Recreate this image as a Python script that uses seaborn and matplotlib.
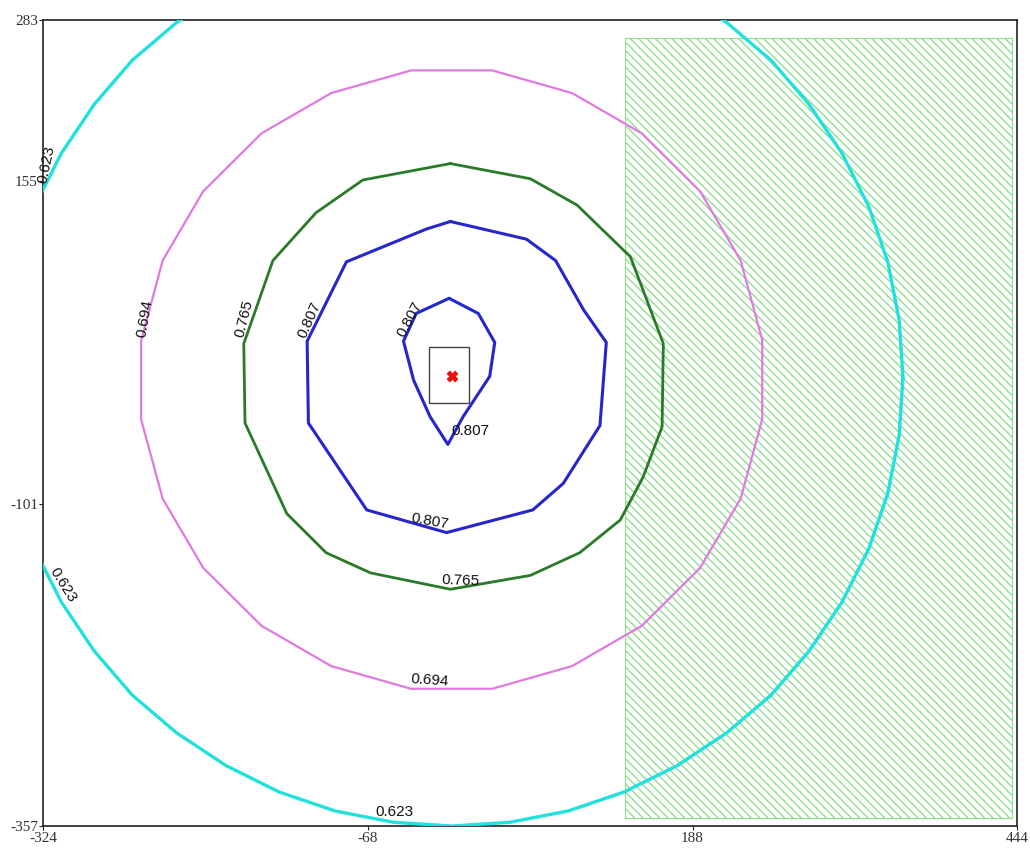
import numpy as np
import matplotlib
matplotlib.use("Agg")
import matplotlib.pyplot as plt
import seaborn as sns
from matplotlib.patches import Rectangle

# ---- axis ticks ----
x_ticks = [-324, -68, 188, 444]
y_ticks = [-357, -101, 155, 283]

# ---- contour lines (data coords) ----
c623_x = [354, 351, 342, 327, 306, 280, 250, 215, 176, 134, 90, 44, -2,
          -48, -94, -138, -180, -219, -254, -284, -310, -331, -346, -355, -358,
          -355, -346, -331, -310, -284, -254, -219, -180, -138, -94, -48, -2,
          44, 90, 134, 176, 215, 250, 280, 306, 327, 342, 351, 354]
c623_y = [-1, 45, 91, 135, 177, 216, 251, 281, 307, 328, 343, 352, 355,
          352, 343, 328, 307, 281, 251, 216, 177, 135, 91, 45, -1,
          -47, -93, -137, -179, -218, -253, -283, -309, -330, -345, -354, -357,
          -354, -345, -330, -309, -283, -253, -218, -179, -137, -93, -47, -1]

c694_x = [243, 226, 194, 148, 93, 30, -34, -97, -152, -198, -230, -247,
          -247, -230, -198, -152, -97, -34, 30, 93, 148, 194, 226, 243, 243]
c694_y = [29, 92, 147, 193, 225, 243, 243, 225, 193, 147, 92, 28,
          -34, -97, -152, -198, -230, -248, -248, -230, -198, -152, -97, -34, 29]

c765_x = [-3, 60, 97, 139, 165, 164, 149, 131, 99, 60, -3, -66, -101, -132, -165, -166, -143, -109, -72, -3]
c765_y = [169, 157, 136, 95, 26, -40, -80, -114, -140, -158, -169, -156, -140, -109, -37, 26, 92, 130, 156, 169]

c807_x = [-3, 57, 80, 102, 120, 115, 86, 62, -6, -69, -115, -116, -85, -22, -3]
c807_y = [123, 109, 92, 53, 27, -39, -85, -106, -124, -106, -37, 28, 91, 117, 123]

c807b_x = [-4, 19, 32, 28, 7, -5, -19, -32, -40, -30, -4]
c807b_y = [62, 50, 27, 0, -32, -54, -32, -3, 28, 50, 62]

# contour labels: text, x, y, rotation
lab_text = ["0.623", "0.623", "0.623", "0.694", "0.694", "0.765", "0.765", "0.807", "0.807", "0.807", "0.807"]
lab_x = [-322, -309, -47, -244, -19, -166, 5, -114, -19, -35, 13]
lab_y = [168, -166, -346, 46, -241, 46, -162, 45, -115, 45, -43]
lab_rot = [78, -58, 0, 80, -4, 76, -2, 66, -10, 62, 0]

# source point, box around it, shaded zone
src_x, src_y = [-2], [0]
box_x0, box_y0, box_x1, box_y1 = -20, -21, 12, 23
zone_x0, zone_y0, zone_x1, zone_y1 = 135, -351, 440, 269

sns.set_style("white")
plt.rcParams['hatch.linewidth'] = 1.0

fig = plt.figure(figsize=(10.30, 8.48), dpi=100)
ax = fig.add_axes([0.0422, 0.0259, 0.9452, 0.9505])

# hatched zone
ax.add_patch(Rectangle((zone_x0, zone_y0), zone_x1 - zone_x0, zone_y1 - zone_y0,
                       fill=False, hatch='\\' * 4, edgecolor='#8fdf8f', lw=0.8, zorder=1))

lines = [
    (c623_x, c623_y, '#22e0dc', 2.4),
    (c694_x, c694_y, '#e07ae0', 1.6),
    (c765_x, c765_y, '#2a7a2a', 2.0),
    (c807_x, c807_y, '#2626cc', 2.2),
    (c807b_x, c807b_y, '#2626cc', 2.2),
]
for xs, ys, col, lw in lines:
    sns.lineplot(x=xs, y=ys, sort=False, estimator=None, color=col, lw=lw, ax=ax, zorder=3)

for t, x, y, r in zip(lab_text, lab_x, lab_y, lab_rot):
    ax.text(x, y, t, rotation=r, ha='center', va='center', fontsize=11,
            family='Liberation Sans', color='#111111', zorder=4, rotation_mode='anchor')

ax.add_patch(Rectangle((box_x0, box_y0), box_x1 - box_x0, box_y1 - box_y0,
                       fill=False, edgecolor='#444444', lw=1.0, zorder=4))
sns.scatterplot(x=src_x, y=src_y, marker='X', s=60, color='#ee1111', edgecolor='#ee1111', ax=ax, zorder=5)

ax.set_xlim(x_ticks[0], x_ticks[-1])
ax.set_ylim(y_ticks[0], y_ticks[-1])
ax.set_xticks(x_ticks)
ax.set_yticks(y_ticks)
ax.set_xticklabels([str(v) for v in x_ticks], family='Liberation Serif', fontsize=11, color='#333333')
ax.set_yticklabels([str(v) for v in y_ticks], family='Liberation Serif', fontsize=11, color='#333333')
ax.tick_params(axis='both', length=3, width=0.8, pad=1, direction='out', left=True, bottom=True)
for s in ax.spines.values():
    s.set_color('#222222')
    s.set_linewidth(1.2)
ax.set_xlabel('')
ax.set_ylabel('')

fig.savefig('out.png', dpi=100)
